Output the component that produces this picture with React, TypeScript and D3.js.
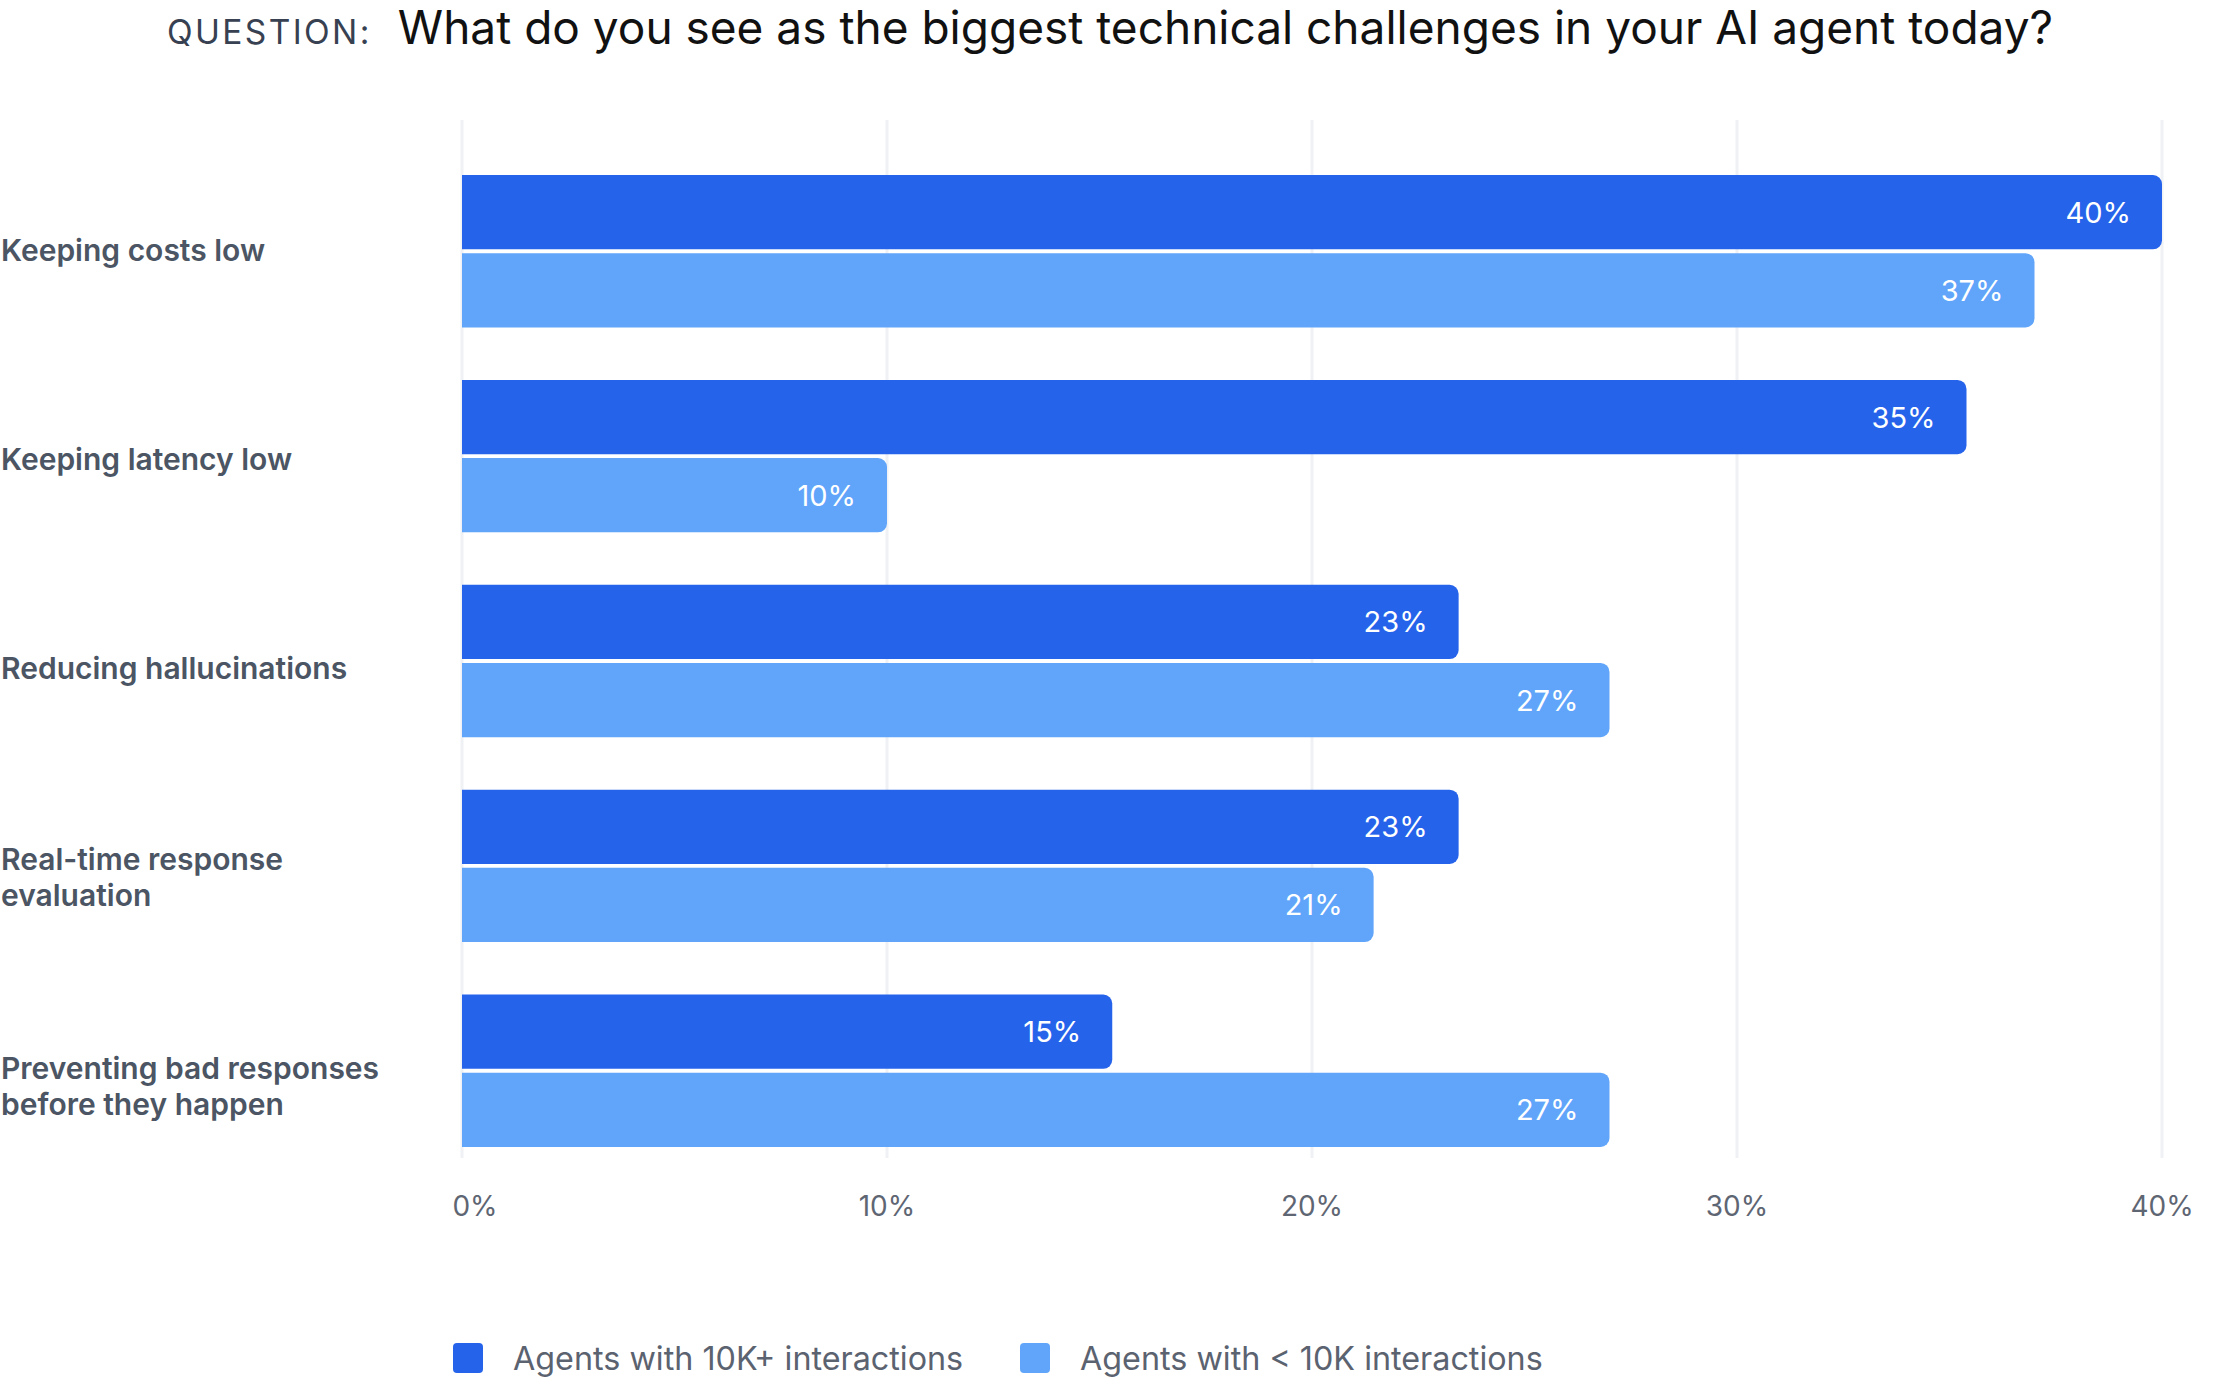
import React, { useEffect, useRef } from 'react';
import * as d3 from 'd3';

const W = 2214;
const H = 1384;
const FONT = 'Inter, "Noto Sans", sans-serif';
const DARK = '#2563EB';
const LIGHT = '#60A5FA';
const GRID = '#F0F1F4';

// Data
const categories = [
  'Keeping costs low',
  'Keeping latency low',
  'Reducing hallucinations',
  'Real-time response\nevaluation',
  'Preventing bad responses\nbefore they happen',
];
const seriesKeys = ['big', 'small'];
const seriesNames = ['Agents with 10K+ interactions', 'Agents with < 10K interactions'];
const seriesColors = [DARK, LIGHT];
const bigValues = [40, 35.4, 23.45, 23.45, 15.3];
const smallValues = [37, 10, 27, 21.45, 27];
const xTicks = [0, 10, 20, 30, 40];

const MARGIN = { left: 462, right: 52, gridTop: 120, gridBottom: 1158, barTop: 175, barBottom: 1147 };

const App: React.FC = () => {
  const svgRef = useRef<SVGSVGElement>(null);

  useEffect(() => {
    const svg = d3.select(svgRef.current);
    svg.selectAll('*').remove();

    const x = d3.scaleLinear().domain([0, 40]).range([MARGIN.left, W - MARGIN.right]);
    const y = d3.scaleBand<string>().domain(categories).range([MARGIN.barTop, MARGIN.barBottom]).paddingInner(0.256).paddingOuter(0);
    const ySub = d3.scaleBand<string>().domain(seriesKeys).range([0, y.bandwidth()]).paddingInner(0.05);
    const yLabel = d3.scalePoint<string>().domain(categories).range([250, 1086]);

    // Title
    const title = svg.append('text')
      .attr('x', 1110).attr('y', 44)
      .attr('text-anchor', 'middle')
      .attr('font-family', FONT);
    title.append('tspan')
      .attr('font-size', 33.5).attr('letter-spacing', 2.4)
      .attr('fill', '#374151')
      .text('QUESTION:');
    title.append('tspan')
      .attr('dx', 26)
      .attr('font-size', 46).attr('fill', '#111111')
      .text('What do you see as the biggest technical challenges in your AI agent today?');

    // Grid
    svg.append('g').selectAll('line').data(xTicks).join('line')
      .attr('x1', d => x(d)).attr('x2', d => x(d))
      .attr('y1', MARGIN.gridTop).attr('y2', MARGIN.gridBottom)
      .attr('stroke', GRID).attr('stroke-width', 3);

    // X tick labels (the first one sits a little right of its line)
    svg.append('g').selectAll('text').data(xTicks).join('text')
      .attr('x', d => x(d)).attr('y', 1216)
      .attr('dx', (_, i) => (i === 0 ? 13 : 0))
      .attr('text-anchor', 'middle')
      .attr('font-family', FONT).attr('font-size', 28)
      .attr('fill', '#5F6673')
      .text(d => `${d}%`);

    // Category labels
    const labels = svg.append('g').selectAll('text').data(categories).join('text')
      .attr('font-family', FONT).attr('font-size', 30).attr('font-weight', 600)
      .attr('fill', '#4B5563')
      .attr('dominant-baseline', 'central');
    labels.each(function (d) {
      const lines = d.split('\n');
      const cy = yLabel(d)!;
      const lh = 36;
      d3.select(this).selectAll('tspan').data(lines).join('tspan')
        .attr('x', 1)
        .attr('y', (_, i) => cy + (i - (lines.length - 1) / 2) * lh)
        .text(l => l);
    });

    // Bars: square left edge, rounded right edge
    const barPath = (x0: number, y0: number, w: number, h: number, r: number) => {
      const rr = Math.min(r, w / 2, h / 2);
      return `M${x0},${y0}H${x0 + w - rr}A${rr},${rr} 0 0 1 ${x0 + w},${y0 + rr}V${y0 + h - rr}A${rr},${rr} 0 0 1 ${x0 + w - rr},${y0 + h}H${x0}Z`;
    };

    const rows = categories.map((c, i) => ({ cat: c, big: bigValues[i], small: smallValues[i] }));
    const groups = svg.append('g').selectAll('g').data(rows).join('g')
      .attr('transform', d => `translate(0,${y(d.cat)})`);

    seriesKeys.forEach((key, si) => {
      groups.append('path')
        .attr('fill', seriesColors[si])
        .attr('d', d => {
          const v = (d as any)[key] as number;
          return barPath(x(0), ySub(key)!, x(v) - x(0), ySub.bandwidth(), 9);
        });
      groups.append('text')
        .attr('x', d => x((d as any)[key]) - 31)
        .attr('y', ySub(key)! + ySub.bandwidth() / 2)
        .attr('text-anchor', 'end').attr('dominant-baseline', 'central')
        .attr('font-family', FONT).attr('font-size', 29)
        .attr('fill', '#FFFFFF')
        .text(d => `${Math.round((d as any)[key])}%`);
    });

    // Legend
    const legendX = [453, 1020];
    const legend = svg.append('g').selectAll('g').data(seriesNames).join('g')
      .attr('transform', (_, i) => `translate(${legendX[i]},1343)`);
    legend.append('rect')
      .attr('width', 30).attr('height', 30).attr('rx', 4)
      .attr('fill', (_, i) => seriesColors[i]);
    legend.append('text')
      .attr('x', 60).attr('y', 15)
      .attr('dominant-baseline', 'central')
      .attr('font-family', FONT).attr('font-size', 32.3)
      .attr('fill', '#5B6270')
      .text(d => d);
  }, []);

  return (
    <svg
      ref={svgRef}
      width={W}
      height={H}
      style={{ position: 'absolute', left: 0, top: 0, background: '#FFFFFF', display: 'block' }}
    />
  );
};

export default App;
